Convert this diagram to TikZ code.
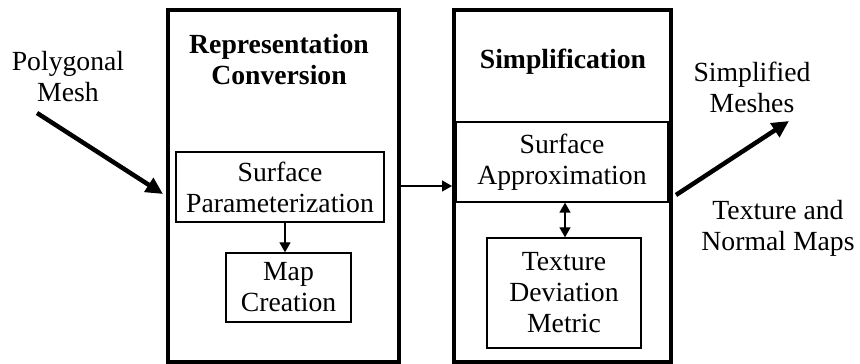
\documentclass[tikz,border=0pt]{standalone}
\usepackage{fontspec}
\setmainfont{Liberation Serif}
\usetikzlibrary{arrows.meta}

\tikzset{
  stage/.style={draw,line width=4.5pt},
  inbox/.style={draw,line width=1.3pt,align=center,inner sep=0pt},
  label/.style={align=center},
  thinarrow/.style={line width=1.3pt,-{Triangle[length=10pt,width=11pt]}},
  thickarrow/.style={line width=4.5pt,-{Triangle[length=17pt,width=16pt]}}
}

\begin{document}
\begin{tikzpicture}[x=1pt,y=1pt,font=\fontsize{27.7}{31}\selectfont]
  \clip (0,0) rectangle (860,364);
  \useasboundingbox (0,0) rectangle (860,364);

  % the two stages
  \draw[stage] (168,2) rectangle (399,354);
  \draw[stage] (454,2) rectangle (671,354);
  \coordinate (repE) at (401,178);
  \coordinate (simW) at (452,178);

  \node[label,font=\fontsize{27.7}{31}\selectfont\bfseries] (rep) at (279,304) {Representation\\Conversion};
  \node[label,font=\fontsize{27.7}{31}\selectfont\bfseries] (sim) at (563,302) {Simplification};

  \node[inbox,minimum width=208pt,minimum height=70pt] (param) at (280,177) {Surface\\Parameterization};
  \node[inbox,minimum width=125pt,minimum height=69pt] (map) at (288.5,76.5) {Map\\Creation};
  \node[inbox,minimum width=212pt,minimum height=80pt] (approx) at (562,202) {Surface\\Approximation};
  \node[inbox,minimum width=154pt,minimum height=110pt] (metric) at (564,71) {Texture\\Deviation\\Metric};

  % inputs and outputs
  \node[label] (mesh) at (68,287) {Polygonal\\Mesh};
  \node[label] (simplified) at (752,277) {Simplified\\Meshes};
  \node[label] (maps) at (778,136) {Texture and\\Normal Maps};
  \coordinate (meshTail) at (37,251);
  \coordinate (meshHead) at (163,170);
  \coordinate (outTail) at (676,169);
  \coordinate (outHead) at (789,243);

  \draw[thickarrow] (meshTail) -- (meshHead);
  \draw[thickarrow] (outTail) -- (outHead);
  \draw[thinarrow] (repE) -- (simW);
  \draw[thinarrow] ([xshift=5pt]param.south) -- ([xshift=5pt]param.south |- map.north);
  \draw[thinarrow,{Triangle[length=10pt,width=11pt]}-{Triangle[length=10pt,width=11pt]}] ([xshift=3pt]approx.south) -- ([xshift=3pt]approx.south |- metric.north);
\end{tikzpicture}
\end{document}
